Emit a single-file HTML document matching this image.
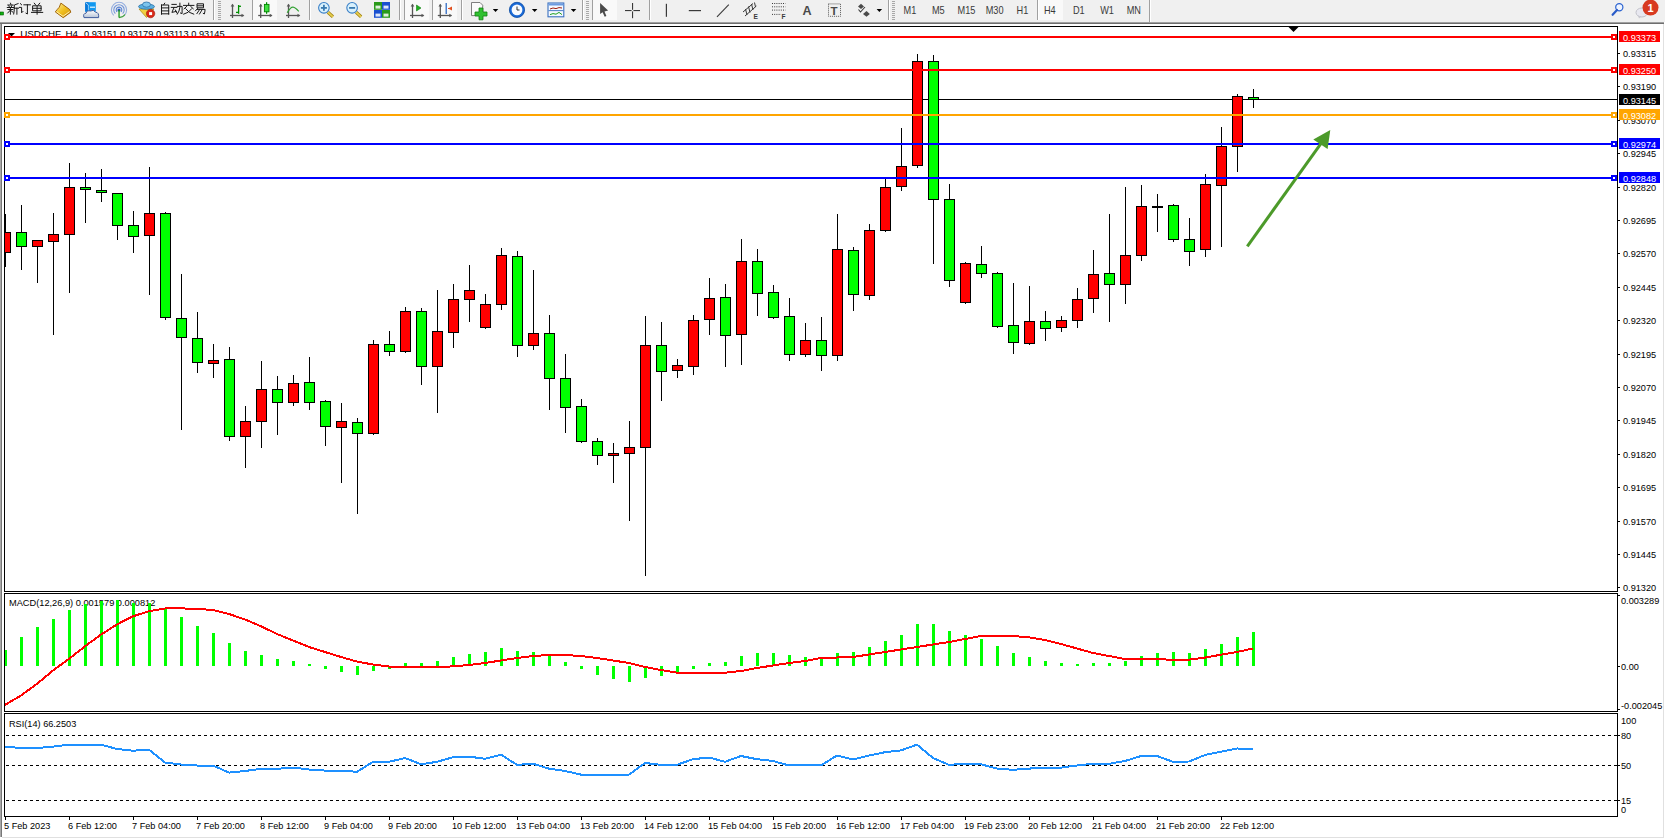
<!DOCTYPE html>
<html><head><meta charset="utf-8"><style>
html,body{margin:0;padding:0;width:1665px;height:839px;overflow:hidden;background:#fff}
</style></head><body>
<svg width="1665" height="839" viewBox="0 0 1665 839" style="position:absolute;left:0;top:0;font-family:'Liberation Sans', sans-serif"><rect x="0" y="0" width="1665" height="839" fill="#ffffff"/><rect x="0" y="0" width="1665" height="22" fill="#f0f0f0"/><g><rect x="0" y="12" width="3.5" height="3" fill="#10b010" stroke="#006000" stroke-width="0.6"/><path transform="translate(7.3,3.2)" d="M3.2,0 L3.6,1.2 M0.5,1.8 H5.8 M1.5,2.6 L2,3.6 M4.5,2.6 L4,3.6 M0,4.3 H6.2 M0.6,6.3 H5.6 M3.1,4.3 V11 M3,7 L0.4,9.8 M3.2,7 L5.6,9 M10.8,0.4 L7,1.8 V6.5 L6.4,10.8 M7,5 H11.2 M9.6,5 V11" fill="none" stroke="#1a1a1a" stroke-width="1" stroke-linecap="square"/><path transform="translate(19.4,3.2)" d="M1,0.4 L2.2,1.6 M0,4.2 H2.2 V9.6 L3.6,8.2 M4.5,1.6 H11 M8,1.6 V10.8 L6.6,10" fill="none" stroke="#1a1a1a" stroke-width="1" stroke-linecap="square"/><path transform="translate(31.5,3.2)" d="M2.8,0 L4,1.6 M8.2,0 L7,1.6 M1.6,2.6 H9.6 V7.6 H1.6 Z M1.6,5.1 H9.6 M5.6,2.6 V11 M0,9.2 H11.2" fill="none" stroke="#1a1a1a" stroke-width="1" stroke-linecap="square"/><defs><linearGradient id="bk" x1="0" y1="0" x2="1" y2="1"><stop offset="0" stop-color="#fff0a0"/><stop offset="0.5" stop-color="#f0c020"/><stop offset="1" stop-color="#d09010"/></linearGradient><linearGradient id="cl" x1="0" y1="0" x2="0" y2="1"><stop offset="0" stop-color="#ffffff"/><stop offset="1" stop-color="#b8c4d8"/></linearGradient></defs><path d="M60.9,3.1 L69.8,9.6 L70.8,12.2 L63.2,17.7 L55.3,11.9 Q57.5,9 59.2,7.3 Z" fill="url(#bk)" stroke="#9a5a00" stroke-width="0.9"/><path d="M56.5,11.6 L63,16.3 L69.6,11.6" fill="none" stroke="#fff0b0" stroke-width="1"/><rect x="85.2" y="2.2" width="10.6" height="9.5" fill="#1098f0"/><rect x="85.2" y="2.2" width="3.2" height="9.5" fill="#0a78d8"/><line x1="85.6" y1="2.6" x2="88.4" y2="5" stroke="#e0f4ff" stroke-width="0.8"/><line x1="88.4" y1="5" x2="88.4" y2="11" stroke="#e0f4ff" stroke-width="0.6"/><rect x="90" y="6.6" width="5" height="1.2" fill="#e8f8ff"/><path d="M84,17.6 Q82.6,13.6 86,13.2 Q87,10 90.6,11 Q93.4,9.2 95.6,12.2 Q99.2,12.4 98.6,17.6 Z" fill="url(#cl)" stroke="#405c9c" stroke-width="1"/><path d="M113.68,15.32 A7.6,7.6 0 1 1 124.32,15.32" fill="none" stroke="#4a78d0" stroke-width="1.1" opacity="0.55"/><path d="M115.36,13.64 A5.2,5.2 0 1 1 122.64,13.64" fill="none" stroke="#4a78d0" stroke-width="1.1" opacity="0.75"/><path d="M117.04,11.959999999999999 A2.8,2.8 0 1 1 120.96,11.959999999999999" fill="none" stroke="#4a78d0" stroke-width="1.1" opacity="0.9"/><path d="M119,17.6 A7.6,7.6 0 0 0 125,14.5" fill="none" stroke="#40a040" stroke-width="1.2"/><circle cx="119" cy="10" r="1.6" fill="#2a5ac0"/><rect x="118.4" y="10" width="1.3" height="7.6" fill="#1a9a1a"/><polygon points="139,9 154,9 146.5,17.5" fill="#f0d040" stroke="#b09020" stroke-width="0.8"/><ellipse cx="146.5" cy="6.6" rx="8" ry="2.6" fill="#5ab0e0" stroke="#2a70a8" stroke-width="0.8"/><ellipse cx="146.5" cy="4.6" rx="4" ry="2.6" fill="#7cc4ec" stroke="#2a70a8" stroke-width="0.8"/><circle cx="150.6" cy="13.6" r="4.2" fill="#d82818" stroke="#a01808" stroke-width="0.6"/><rect x="149.1" y="12.1" width="3" height="3" fill="#fff"/><path transform="translate(159.5,3.2)" d="M5.2,0 L4.2,1.6 M2,1.8 H9.2 V11 M2,1.8 V11 M2,4.7 H9.2 M2,7.7 H9.2 M2,10.6 H9.2" fill="none" stroke="#1a1a1a" stroke-width="1" stroke-linecap="square"/><path transform="translate(171.3,3.2)" d="M0.6,1.2 H5 M0,4.2 H5.6 M2.8,4.2 L0.6,9.2 L5,8.2 M4,6.8 L5.6,9.8 M6,3.2 H10.8 V10.4 L9.2,9.8 M8.6,0 V4 Q8.2,8 6,11" fill="none" stroke="#1a1a1a" stroke-width="1" stroke-linecap="square"/><path transform="translate(183.1,3.2)" d="M5.6,0 V1.6 M0.4,2.2 H10.8 M3.6,3.2 L1,5.6 M7.6,3.2 L10.2,5.6 M2.6,5.6 Q5.6,10 10.6,11 M8.6,5.6 Q5.6,10 0.6,11" fill="none" stroke="#1a1a1a" stroke-width="1" stroke-linecap="square"/><path transform="translate(194.9,3.2)" d="M2.6,0.6 H8.6 V4.6 H2.6 Z M2.6,2.6 H8.6 M2.8,5.2 L0.6,7.6 M2.2,6.2 H10.2 Q10,9 9.4,10.8 L8.4,10.2 M4.8,6.2 L2,10.4 M7.4,6.2 L4.6,10.8" fill="none" stroke="#1a1a1a" stroke-width="1" stroke-linecap="square"/><rect x="213" y="0" width="1" height="20" fill="#a0a0a0"/><rect x="214" y="0" width="1" height="20" fill="#ffffff"/><rect x="218" y="1" width="3" height="1" fill="#a8a8a8"/><rect x="218" y="3" width="3" height="1" fill="#a8a8a8"/><rect x="218" y="5" width="3" height="1" fill="#a8a8a8"/><rect x="218" y="7" width="3" height="1" fill="#a8a8a8"/><rect x="218" y="9" width="3" height="1" fill="#a8a8a8"/><rect x="218" y="11" width="3" height="1" fill="#a8a8a8"/><rect x="218" y="13" width="3" height="1" fill="#a8a8a8"/><rect x="218" y="15" width="3" height="1" fill="#a8a8a8"/><rect x="218" y="17" width="3" height="1" fill="#a8a8a8"/><rect x="218" y="19" width="3" height="1" fill="#a8a8a8"/><g stroke="#555555" stroke-width="1.3" fill="none"><line x1="232.5" y1="4.5" x2="232.5" y2="18"/><line x1="230" y1="15.5" x2="243.5" y2="15.5"/></g><polygon points="230.7,6.5 232.5,3.8 234.3,6.5" fill="#555555"/><polygon points="241.5,13.7 244.3,15.5 241.5,17.3" fill="#555555"/><g stroke="#009000" stroke-width="1.3" fill="none"><line x1="238.6" y1="5" x2="238.6" y2="13.8"/><line x1="238.6" y1="6.3" x2="241" y2="6.3"/><line x1="236" y1="12.4" x2="238.6" y2="12.4"/></g><rect x="252" y="0" width="1" height="20" fill="#a0a0a0"/><rect x="253" y="0" width="1" height="20" fill="#ffffff"/><rect x="253" y="0" width="24" height="20" fill="#f9f9f9"/><g stroke="#555555" stroke-width="1.3" fill="none"><line x1="260.7" y1="4.5" x2="260.7" y2="18"/><line x1="258.2" y1="15.5" x2="271.7" y2="15.5"/></g><polygon points="258.9,6.5 260.7,3.8 262.5,6.5" fill="#555555"/><polygon points="269.7,13.7 272.5,15.5 269.7,17.3" fill="#555555"/><rect x="266" y="2.2" width="1.2" height="11.6" fill="#009000"/><rect x="264.4" y="4.4" width="4.6" height="7.4" fill="#40e040" stroke="#008000" stroke-width="0.9"/><g stroke="#555555" stroke-width="1.3" fill="none"><line x1="288.5" y1="4.5" x2="288.5" y2="18"/><line x1="286" y1="15.5" x2="299.5" y2="15.5"/></g><polygon points="286.7,6.5 288.5,3.8 290.3,6.5" fill="#555555"/><polygon points="297.5,13.7 300.3,15.5 297.5,17.3" fill="#555555"/><path d="M287.2,12.7 Q291,6.5 293.2,7.2 Q295,7.5 298.8,11.3" fill="none" stroke="#30a030" stroke-width="1.2"/><rect x="309" y="0" width="1" height="20" fill="#a0a0a0"/><rect x="310" y="0" width="1" height="20" fill="#ffffff"/><line x1="327.9" y1="12.2" x2="332.9" y2="16.8" stroke="#a08010" stroke-width="3.2"/><line x1="327.9" y1="12.2" x2="332.9" y2="16.8" stroke="#e8d050" stroke-width="1.8"/><circle cx="323.9" cy="7.8" r="5.3" fill="#d8f0fc" stroke="#3a80c8" stroke-width="1.1"/><rect x="320.9" y="7" width="6" height="1.8" fill="#3a7ab0"/><rect x="323.0" y="4.8" width="1.8" height="6" fill="#3a7ab0"/><line x1="356.1" y1="12.2" x2="361.1" y2="16.8" stroke="#a08010" stroke-width="3.2"/><line x1="356.1" y1="12.2" x2="361.1" y2="16.8" stroke="#e8d050" stroke-width="1.8"/><circle cx="352.1" cy="7.8" r="5.3" fill="#d8f0fc" stroke="#3a80c8" stroke-width="1.1"/><rect x="349.1" y="7" width="6" height="1.8" fill="#3a7ab0"/><rect x="374" y="2" width="8" height="7.8" fill="#2a9a1a"/><rect x="375.5" y="5.6" width="5" height="3" fill="#ffffff" opacity="0.85"/><rect x="382" y="2" width="8" height="7.8" fill="#1a50d0"/><rect x="383.5" y="5.6" width="5" height="3" fill="#ffffff" opacity="0.85"/><rect x="374" y="10" width="8" height="7.8" fill="#1a50d0"/><rect x="375.5" y="13.6" width="5" height="3" fill="#ffffff" opacity="0.85"/><rect x="382" y="10" width="8" height="7.8" fill="#2a9a1a"/><rect x="383.5" y="13.6" width="5" height="3" fill="#ffffff" opacity="0.85"/><rect x="399" y="0" width="1" height="20" fill="#a0a0a0"/><rect x="400" y="0" width="1" height="20" fill="#ffffff"/><rect x="404" y="0" width="1" height="20" fill="#a0a0a0"/><rect x="405" y="0" width="1" height="20" fill="#ffffff"/><rect x="405" y="0" width="24" height="20" fill="#f9f9f9"/><g stroke="#555555" stroke-width="1.3" fill="none"><line x1="412.5" y1="4.5" x2="412.5" y2="18"/><line x1="410" y1="15.5" x2="423.5" y2="15.5"/></g><polygon points="410.7,6.5 412.5,3.8 414.3,6.5" fill="#555555"/><polygon points="421.5,13.7 424.3,15.5 421.5,17.3" fill="#555555"/><polygon points="416.5,5 416.5,11 421,8" fill="#20b020" stroke="#108010" stroke-width="0.6"/><rect x="432" y="0" width="1" height="20" fill="#a0a0a0"/><rect x="433" y="0" width="1" height="20" fill="#ffffff"/><rect x="433" y="0" width="24" height="20" fill="#f9f9f9"/><g stroke="#555555" stroke-width="1.3" fill="none"><line x1="440.3" y1="4.5" x2="440.3" y2="18"/><line x1="437.8" y1="15.5" x2="451.3" y2="15.5"/></g><polygon points="438.5,6.5 440.3,3.8 442.1,6.5" fill="#555555"/><polygon points="449.3,13.7 452.1,15.5 449.3,17.3" fill="#555555"/><rect x="445.6" y="3" width="1.2" height="11" fill="#2060c0"/><polygon points="452,6.5 448,8.5 452,10.5" fill="#e05020"/><rect x="448" y="8" width="4" height="1" fill="#e05020"/><rect x="461" y="0" width="1" height="20" fill="#a0a0a0"/><rect x="462" y="0" width="1" height="20" fill="#ffffff"/><path d="M471.5,2.5 H480 L482.7,5.2 V15.6 H471.5 Z" fill="#fafafa" stroke="#707070" stroke-width="0.9"/><path d="M479,8 H483 V12 H487 V16 H483 V19.8 H479 V16 H475 V12 H479 Z" fill="#30c030" stroke="#108010" stroke-width="0.8"/><polygon points="492.8,9 498.3,9 495.55,12" fill="#000"/><circle cx="517" cy="9.9" r="7.6" fill="#1a6ad8" stroke="#0a4aa0" stroke-width="0.8"/><circle cx="517" cy="9.9" r="5.4" fill="#f8fbff"/><path d="M517,6.5 V10 H519.5" fill="none" stroke="#303030" stroke-width="1"/><polygon points="531.9,9 537.4,9 534.65,12" fill="#000"/><rect x="548" y="3" width="15.8" height="13.8" fill="#f4f8ff" stroke="#3a70c0" stroke-width="1.1"/><rect x="548.5" y="3.5" width="14.8" height="2" fill="#6a9ae0"/><rect x="548.5" y="10.2" width="14.8" height="0.9" fill="#3a70c0"/><polyline points="550,9 553,8 556,8.6 559,7.6 562,8" fill="none" stroke="#a02010" stroke-width="1"/><polyline points="550,14.6 553,13.6 556,14.2 559,12.4 562,14.6" fill="none" stroke="#20a020" stroke-width="1"/><polygon points="570.8,9 576.3,9 573.55,12" fill="#000"/><rect x="582" y="0" width="1" height="20" fill="#a0a0a0"/><rect x="583" y="0" width="1" height="20" fill="#ffffff"/><rect x="586" y="1" width="3" height="1" fill="#a8a8a8"/><rect x="586" y="3" width="3" height="1" fill="#a8a8a8"/><rect x="586" y="5" width="3" height="1" fill="#a8a8a8"/><rect x="586" y="7" width="3" height="1" fill="#a8a8a8"/><rect x="586" y="9" width="3" height="1" fill="#a8a8a8"/><rect x="586" y="11" width="3" height="1" fill="#a8a8a8"/><rect x="586" y="13" width="3" height="1" fill="#a8a8a8"/><rect x="586" y="15" width="3" height="1" fill="#a8a8a8"/><rect x="586" y="17" width="3" height="1" fill="#a8a8a8"/><rect x="586" y="19" width="3" height="1" fill="#a8a8a8"/><rect x="592" y="0" width="1" height="20" fill="#a0a0a0"/><rect x="593" y="0" width="1" height="20" fill="#ffffff"/><rect x="593" y="0" width="24" height="20" fill="#f9f9f9"/><polygon points="600.1,2.9 600.1,13.9 602.6,12.2 604.7,16.8 606.4,16 604.5,11.4 608.1,10.5" fill="#4a4a4a"/><g fill="#3a3a3a"><rect x="625" y="10" width="6.6" height="1.1"/><rect x="633.4" y="10" width="6.6" height="1.1"/><rect x="632" y="3" width="1.1" height="6.8"/><rect x="632" y="11.4" width="1.1" height="6.8"/></g><rect x="649" y="0" width="1" height="20" fill="#a0a0a0"/><rect x="650" y="0" width="1" height="20" fill="#ffffff"/><rect x="665.8" y="3.8" width="1.2" height="13" fill="#3a3a3a"/><rect x="688.8" y="10" width="12.2" height="1.2" fill="#3a3a3a"/><line x1="717" y1="16.8" x2="728.8" y2="4.6" stroke="#3a3a3a" stroke-width="1.1"/><g stroke="#3a3a3a" stroke-width="1" fill="none"><line x1="743" y1="12" x2="753" y2="3.5"/><line x1="745" y1="16" x2="756.4" y2="6"/><line x1="745.5" y1="9" x2="747" y2="15"/><line x1="748.5" y1="6.5" x2="750" y2="12.5"/><line x1="751.5" y1="4" x2="753" y2="10"/><line x1="754.5" y1="2.5" x2="755.5" y2="7"/></g><text x="753.4" y="18.6" font-size="6.6" font-weight="bold" fill="#3a3a3a">E</text><g stroke="#3a3a3a" stroke-width="1" stroke-dasharray="1,1.2"><line x1="772" y1="3.5" x2="785.5" y2="3.5"/><line x1="772" y1="6.8" x2="785.5" y2="6.8"/><line x1="772" y1="10.1" x2="785.5" y2="10.1"/><line x1="772" y1="14.4" x2="781" y2="14.4"/></g><text x="781.6" y="18.6" font-size="6.6" font-weight="bold" fill="#3a3a3a">F</text><text x="802.6" y="15" font-size="12.6" font-weight="bold" fill="#4a4a4a">A</text><rect x="828.5" y="3.9" width="12" height="12.4" fill="none" stroke="#5a5a5a" stroke-width="1" stroke-dasharray="1,1"/><text x="830.6" y="14.6" font-size="11.6" font-weight="bold" fill="#4a4a4a">T</text><polygon points="858,6.5 861,3.8 864,6.5 861,9" fill="#4a4a4a"/><polygon points="863,14 866.5,11 869.8,14 866.5,16.8" fill="#4a4a4a"/><polyline points="858.5,9.5 860.5,12 865,7" fill="none" stroke="#3a3a3a" stroke-width="1.1"/><polygon points="876.6,9 882.1,9 879.35,12" fill="#000"/><rect x="888" y="0" width="1" height="20" fill="#a0a0a0"/><rect x="889" y="0" width="1" height="20" fill="#ffffff"/><rect x="892" y="1" width="3" height="1" fill="#a8a8a8"/><rect x="892" y="3" width="3" height="1" fill="#a8a8a8"/><rect x="892" y="5" width="3" height="1" fill="#a8a8a8"/><rect x="892" y="7" width="3" height="1" fill="#a8a8a8"/><rect x="892" y="9" width="3" height="1" fill="#a8a8a8"/><rect x="892" y="11" width="3" height="1" fill="#a8a8a8"/><rect x="892" y="13" width="3" height="1" fill="#a8a8a8"/><rect x="892" y="15" width="3" height="1" fill="#a8a8a8"/><rect x="892" y="17" width="3" height="1" fill="#a8a8a8"/><rect x="892" y="19" width="3" height="1" fill="#a8a8a8"/><rect x="1037" y="0" width="1" height="20" fill="#a0a0a0"/><rect x="1038" y="0" width="1" height="20" fill="#ffffff"/><rect x="1039" y="0" width="24" height="20" fill="#f9f9f9"/><text transform="translate(903.5,14) scale(0.92,1)" font-size="10" fill="#3a3a3a">M1</text><text transform="translate(931.9,14) scale(0.92,1)" font-size="10" fill="#3a3a3a">M5</text><text transform="translate(957.6,14) scale(0.92,1)" font-size="10" fill="#3a3a3a">M15</text><text transform="translate(985.7,14) scale(0.92,1)" font-size="10" fill="#3a3a3a">M30</text><text transform="translate(1016.6,14) scale(0.92,1)" font-size="10" fill="#3a3a3a">H1</text><text transform="translate(1043.9,14) scale(0.92,1)" font-size="10" fill="#3a3a3a">H4</text><text transform="translate(1072.9,14) scale(0.92,1)" font-size="10" fill="#3a3a3a">D1</text><text transform="translate(1100.2,14) scale(0.92,1)" font-size="10" fill="#3a3a3a">W1</text><text transform="translate(1126.7,14) scale(0.92,1)" font-size="10" fill="#3a3a3a">MN</text><rect x="1149" y="0" width="1" height="22" fill="#a0a0a0"/><rect x="1150" y="0" width="1" height="22" fill="#ffffff"/><circle cx="1619.3" cy="7.3" r="3.6" fill="#eef4ff" stroke="#2a62d0" stroke-width="1.2"/><line x1="1617" y1="10" x2="1612.6" y2="14.8" stroke="#2a5cc8" stroke-width="2.2" stroke-linecap="round"/><ellipse cx="1641.8" cy="12.5" rx="5.8" ry="4.5" fill="#e8e8f0" stroke="#b8b8c0" stroke-width="0.8"/><polygon points="1638,15.5 1639,18.6 1641.5,16.5" fill="#c8c8d0"/><circle cx="1650.5" cy="7.6" r="8" fill="#d83a20"/><text x="1647.4" y="12.4" font-size="11" font-weight="bold" fill="#fff">1</text></g><rect x="0" y="22" width="1664" height="1" fill="#a0a0a0"/><rect x="0" y="23" width="1664" height="1" fill="#6e6e6e"/><rect x="0" y="24" width="1" height="813" fill="#a8a8a8"/><rect x="1" y="24" width="1" height="813" fill="#787878"/><rect x="1663" y="24" width="1" height="814" fill="#e0e0e0"/><rect x="2" y="837" width="1662" height="1" fill="#e0e0e0"/><g shape-rendering="crispEdges"><rect x="4" y="26" width="1614" height="1" fill="#000"/><rect x="4" y="26" width="1" height="566" fill="#000"/><rect x="1617" y="26" width="1" height="566" fill="#000"/><rect x="4" y="591" width="1614" height="1" fill="#000"/><rect x="4" y="593" width="1614" height="1" fill="#000"/><rect x="4" y="593" width="1" height="119" fill="#000"/><rect x="1617" y="593" width="1" height="119" fill="#000"/><rect x="4" y="711" width="1614" height="1" fill="#000"/><rect x="4" y="713" width="1614" height="1" fill="#000"/><rect x="4" y="713" width="1" height="104" fill="#000"/><rect x="1617" y="713" width="1" height="104" fill="#000"/><rect x="4" y="816" width="1614" height="1" fill="#000"/></g><text transform="translate(20.2,36.7) scale(1.004,1)" font-size="9.8" fill="#000" stroke="#000" stroke-width="0" text-anchor="start" >USDCHF, H4</text><text transform="translate(84,36.7) scale(0.944,1)" font-size="9.8" fill="#000" stroke="#000" stroke-width="0" text-anchor="start" >0.93151 0.93179 0.93113 0.93145</text><polygon points="8,33 15,33 11.5,36.6" fill="#000"/><polygon points="1288.5,27 1298.5,27 1293.5,32" fill="#000"/><defs><clipPath id="cm"><rect x="5" y="27" width="1612" height="564"/></clipPath><clipPath id="cmacd"><rect x="5" y="594" width="1612" height="117"/></clipPath><clipPath id="crsi"><rect x="5" y="714" width="1612" height="102"/></clipPath></defs><g clip-path="url(#cm)" shape-rendering="crispEdges"><rect x="5" y="99" width="1612" height="1" fill="#000"/><rect x="5" y="214" width="1" height="53" fill="#000"/><rect x="21" y="205" width="1" height="65" fill="#000"/><rect x="37" y="240" width="1" height="43" fill="#000"/><rect x="53" y="213" width="1" height="122" fill="#000"/><rect x="69" y="163" width="1" height="130" fill="#000"/><rect x="85" y="173" width="1" height="50" fill="#000"/><rect x="101" y="169" width="1" height="33" fill="#000"/><rect x="117" y="193" width="1" height="47" fill="#000"/><rect x="133" y="211" width="1" height="42" fill="#000"/><rect x="149" y="167" width="1" height="128" fill="#000"/><rect x="165" y="212" width="1" height="108" fill="#000"/><rect x="181" y="274" width="1" height="156" fill="#000"/><rect x="197" y="312" width="1" height="61" fill="#000"/><rect x="213" y="344" width="1" height="34" fill="#000"/><rect x="229" y="347" width="1" height="94" fill="#000"/><rect x="245" y="406" width="1" height="62" fill="#000"/><rect x="261" y="361" width="1" height="87" fill="#000"/><rect x="277" y="376" width="1" height="59" fill="#000"/><rect x="293" y="375" width="1" height="31" fill="#000"/><rect x="309" y="357" width="1" height="53" fill="#000"/><rect x="325" y="400" width="1" height="46" fill="#000"/><rect x="341" y="403" width="1" height="80" fill="#000"/><rect x="357" y="418" width="1" height="96" fill="#000"/><rect x="373" y="340" width="1" height="95" fill="#000"/><rect x="389" y="331" width="1" height="25" fill="#000"/><rect x="405" y="307" width="1" height="46" fill="#000"/><rect x="421" y="308" width="1" height="77" fill="#000"/><rect x="437" y="290" width="1" height="123" fill="#000"/><rect x="453" y="284" width="1" height="64" fill="#000"/><rect x="469" y="265" width="1" height="57" fill="#000"/><rect x="485" y="294" width="1" height="35" fill="#000"/><rect x="501" y="248" width="1" height="62" fill="#000"/><rect x="517" y="251" width="1" height="106" fill="#000"/><rect x="533" y="270" width="1" height="80" fill="#000"/><rect x="549" y="315" width="1" height="95" fill="#000"/><rect x="565" y="354" width="1" height="79" fill="#000"/><rect x="581" y="399" width="1" height="44" fill="#000"/><rect x="597" y="438" width="1" height="27" fill="#000"/><rect x="613" y="443" width="1" height="40" fill="#000"/><rect x="629" y="421" width="1" height="100" fill="#000"/><rect x="645" y="316" width="1" height="260" fill="#000"/><rect x="661" y="322" width="1" height="79" fill="#000"/><rect x="677" y="359" width="1" height="19" fill="#000"/><rect x="693" y="315" width="1" height="60" fill="#000"/><rect x="709" y="278" width="1" height="57" fill="#000"/><rect x="725" y="284" width="1" height="83" fill="#000"/><rect x="741" y="239" width="1" height="126" fill="#000"/><rect x="757" y="249" width="1" height="67" fill="#000"/><rect x="773" y="285" width="1" height="34" fill="#000"/><rect x="789" y="298" width="1" height="63" fill="#000"/><rect x="805" y="323" width="1" height="34" fill="#000"/><rect x="821" y="317" width="1" height="54" fill="#000"/><rect x="837" y="214" width="1" height="147" fill="#000"/><rect x="853" y="247" width="1" height="64" fill="#000"/><rect x="869" y="224" width="1" height="76" fill="#000"/><rect x="885" y="179" width="1" height="53" fill="#000"/><rect x="901" y="128" width="1" height="63" fill="#000"/><rect x="917" y="54" width="1" height="114" fill="#000"/><rect x="933" y="55" width="1" height="209" fill="#000"/><rect x="949" y="184" width="1" height="103" fill="#000"/><rect x="965" y="262" width="1" height="42" fill="#000"/><rect x="981" y="246" width="1" height="32" fill="#000"/><rect x="997" y="272" width="1" height="56" fill="#000"/><rect x="1013" y="283" width="1" height="71" fill="#000"/><rect x="1029" y="286" width="1" height="59" fill="#000"/><rect x="1045" y="311" width="1" height="30" fill="#000"/><rect x="1061" y="316" width="1" height="16" fill="#000"/><rect x="1077" y="288" width="1" height="40" fill="#000"/><rect x="1093" y="250" width="1" height="63" fill="#000"/><rect x="1109" y="214" width="1" height="108" fill="#000"/><rect x="1125" y="187" width="1" height="117" fill="#000"/><rect x="1141" y="185" width="1" height="76" fill="#000"/><rect x="1157" y="194" width="1" height="38" fill="#000"/><rect x="1173" y="204" width="1" height="38" fill="#000"/><rect x="1189" y="218" width="1" height="48" fill="#000"/><rect x="1205" y="174" width="1" height="83" fill="#000"/><rect x="1221" y="127" width="1" height="120" fill="#000"/><rect x="1237" y="94" width="1" height="78" fill="#000"/><rect x="1253" y="89" width="1" height="19" fill="#000"/><rect x="0" y="232" width="11" height="21" fill="#000"/><rect x="1" y="233" width="9" height="19" fill="#ff0000"/><rect x="16" y="232" width="11" height="15" fill="#000"/><rect x="17" y="233" width="9" height="13" fill="#00ff00"/><rect x="32" y="240" width="11" height="7" fill="#000"/><rect x="33" y="241" width="9" height="5" fill="#ff0000"/><rect x="48" y="234" width="11" height="8" fill="#000"/><rect x="49" y="235" width="9" height="6" fill="#ff0000"/><rect x="64" y="187" width="11" height="48" fill="#000"/><rect x="65" y="188" width="9" height="46" fill="#ff0000"/><rect x="80" y="187" width="11" height="3" fill="#000"/><rect x="81" y="188" width="9" height="1" fill="#00ff00"/><rect x="96" y="190" width="11" height="3" fill="#000"/><rect x="97" y="191" width="9" height="1" fill="#00ff00"/><rect x="112" y="193" width="11" height="33" fill="#000"/><rect x="113" y="194" width="9" height="31" fill="#00ff00"/><rect x="128" y="225" width="11" height="12" fill="#000"/><rect x="129" y="226" width="9" height="10" fill="#00ff00"/><rect x="144" y="213" width="11" height="23" fill="#000"/><rect x="145" y="214" width="9" height="21" fill="#ff0000"/><rect x="160" y="213" width="11" height="105" fill="#000"/><rect x="161" y="214" width="9" height="103" fill="#00ff00"/><rect x="176" y="318" width="11" height="20" fill="#000"/><rect x="177" y="319" width="9" height="18" fill="#00ff00"/><rect x="192" y="338" width="11" height="25" fill="#000"/><rect x="193" y="339" width="9" height="23" fill="#00ff00"/><rect x="208" y="360" width="11" height="4" fill="#000"/><rect x="209" y="361" width="9" height="2" fill="#ff0000"/><rect x="224" y="359" width="11" height="78" fill="#000"/><rect x="225" y="360" width="9" height="76" fill="#00ff00"/><rect x="240" y="421" width="11" height="16" fill="#000"/><rect x="241" y="422" width="9" height="14" fill="#ff0000"/><rect x="256" y="389" width="11" height="33" fill="#000"/><rect x="257" y="390" width="9" height="31" fill="#ff0000"/><rect x="272" y="389" width="11" height="14" fill="#000"/><rect x="273" y="390" width="9" height="12" fill="#00ff00"/><rect x="288" y="383" width="11" height="20" fill="#000"/><rect x="289" y="384" width="9" height="18" fill="#ff0000"/><rect x="304" y="382" width="11" height="21" fill="#000"/><rect x="305" y="383" width="9" height="19" fill="#00ff00"/><rect x="320" y="401" width="11" height="26" fill="#000"/><rect x="321" y="402" width="9" height="24" fill="#00ff00"/><rect x="336" y="421" width="11" height="7" fill="#000"/><rect x="337" y="422" width="9" height="5" fill="#ff0000"/><rect x="352" y="422" width="11" height="12" fill="#000"/><rect x="353" y="423" width="9" height="10" fill="#00ff00"/><rect x="368" y="344" width="11" height="90" fill="#000"/><rect x="369" y="345" width="9" height="88" fill="#ff0000"/><rect x="384" y="344" width="11" height="8" fill="#000"/><rect x="385" y="345" width="9" height="6" fill="#00ff00"/><rect x="400" y="311" width="11" height="41" fill="#000"/><rect x="401" y="312" width="9" height="39" fill="#ff0000"/><rect x="416" y="311" width="11" height="56" fill="#000"/><rect x="417" y="312" width="9" height="54" fill="#00ff00"/><rect x="432" y="331" width="11" height="36" fill="#000"/><rect x="433" y="332" width="9" height="34" fill="#ff0000"/><rect x="448" y="299" width="11" height="34" fill="#000"/><rect x="449" y="300" width="9" height="32" fill="#ff0000"/><rect x="464" y="290" width="11" height="10" fill="#000"/><rect x="465" y="291" width="9" height="8" fill="#ff0000"/><rect x="480" y="304" width="11" height="24" fill="#000"/><rect x="481" y="305" width="9" height="22" fill="#ff0000"/><rect x="496" y="255" width="11" height="50" fill="#000"/><rect x="497" y="256" width="9" height="48" fill="#ff0000"/><rect x="512" y="256" width="11" height="90" fill="#000"/><rect x="513" y="257" width="9" height="88" fill="#00ff00"/><rect x="528" y="333" width="11" height="13" fill="#000"/><rect x="529" y="334" width="9" height="11" fill="#ff0000"/><rect x="544" y="333" width="11" height="46" fill="#000"/><rect x="545" y="334" width="9" height="44" fill="#00ff00"/><rect x="560" y="378" width="11" height="30" fill="#000"/><rect x="561" y="379" width="9" height="28" fill="#00ff00"/><rect x="576" y="406" width="11" height="36" fill="#000"/><rect x="577" y="407" width="9" height="34" fill="#00ff00"/><rect x="592" y="441" width="11" height="15" fill="#000"/><rect x="593" y="442" width="9" height="13" fill="#00ff00"/><rect x="608" y="453" width="11" height="3" fill="#000"/><rect x="609" y="454" width="9" height="1" fill="#ff0000"/><rect x="624" y="447" width="11" height="7" fill="#000"/><rect x="625" y="448" width="9" height="5" fill="#ff0000"/><rect x="640" y="345" width="11" height="103" fill="#000"/><rect x="641" y="346" width="9" height="101" fill="#ff0000"/><rect x="656" y="345" width="11" height="27" fill="#000"/><rect x="657" y="346" width="9" height="25" fill="#00ff00"/><rect x="672" y="365" width="11" height="6" fill="#000"/><rect x="673" y="366" width="9" height="4" fill="#ff0000"/><rect x="688" y="320" width="11" height="47" fill="#000"/><rect x="689" y="321" width="9" height="45" fill="#ff0000"/><rect x="704" y="298" width="11" height="22" fill="#000"/><rect x="705" y="299" width="9" height="20" fill="#ff0000"/><rect x="720" y="297" width="11" height="39" fill="#000"/><rect x="721" y="298" width="9" height="37" fill="#00ff00"/><rect x="736" y="261" width="11" height="74" fill="#000"/><rect x="737" y="262" width="9" height="72" fill="#ff0000"/><rect x="752" y="261" width="11" height="33" fill="#000"/><rect x="753" y="262" width="9" height="31" fill="#00ff00"/><rect x="768" y="292" width="11" height="26" fill="#000"/><rect x="769" y="293" width="9" height="24" fill="#00ff00"/><rect x="784" y="316" width="11" height="39" fill="#000"/><rect x="785" y="317" width="9" height="37" fill="#00ff00"/><rect x="800" y="340" width="11" height="15" fill="#000"/><rect x="801" y="341" width="9" height="13" fill="#ff0000"/><rect x="816" y="340" width="11" height="16" fill="#000"/><rect x="817" y="341" width="9" height="14" fill="#00ff00"/><rect x="832" y="249" width="11" height="107" fill="#000"/><rect x="833" y="250" width="9" height="105" fill="#ff0000"/><rect x="848" y="250" width="11" height="45" fill="#000"/><rect x="849" y="251" width="9" height="43" fill="#00ff00"/><rect x="864" y="230" width="11" height="66" fill="#000"/><rect x="865" y="231" width="9" height="64" fill="#ff0000"/><rect x="880" y="187" width="11" height="44" fill="#000"/><rect x="881" y="188" width="9" height="42" fill="#ff0000"/><rect x="896" y="166" width="11" height="21" fill="#000"/><rect x="897" y="167" width="9" height="19" fill="#ff0000"/><rect x="912" y="61" width="11" height="105" fill="#000"/><rect x="913" y="62" width="9" height="103" fill="#ff0000"/><rect x="928" y="61" width="11" height="139" fill="#000"/><rect x="929" y="62" width="9" height="137" fill="#00ff00"/><rect x="944" y="199" width="11" height="82" fill="#000"/><rect x="945" y="200" width="9" height="80" fill="#00ff00"/><rect x="960" y="263" width="11" height="40" fill="#000"/><rect x="961" y="264" width="9" height="38" fill="#ff0000"/><rect x="976" y="264" width="11" height="10" fill="#000"/><rect x="977" y="265" width="9" height="8" fill="#00ff00"/><rect x="992" y="273" width="11" height="54" fill="#000"/><rect x="993" y="274" width="9" height="52" fill="#00ff00"/><rect x="1008" y="325" width="11" height="18" fill="#000"/><rect x="1009" y="326" width="9" height="16" fill="#00ff00"/><rect x="1024" y="321" width="11" height="23" fill="#000"/><rect x="1025" y="322" width="9" height="21" fill="#ff0000"/><rect x="1040" y="321" width="11" height="8" fill="#000"/><rect x="1041" y="322" width="9" height="6" fill="#00ff00"/><rect x="1056" y="320" width="11" height="8" fill="#000"/><rect x="1057" y="321" width="9" height="6" fill="#ff0000"/><rect x="1072" y="299" width="11" height="22" fill="#000"/><rect x="1073" y="300" width="9" height="20" fill="#ff0000"/><rect x="1088" y="274" width="11" height="25" fill="#000"/><rect x="1089" y="275" width="9" height="23" fill="#ff0000"/><rect x="1104" y="273" width="11" height="12" fill="#000"/><rect x="1105" y="274" width="9" height="10" fill="#00ff00"/><rect x="1120" y="255" width="11" height="30" fill="#000"/><rect x="1121" y="256" width="9" height="28" fill="#ff0000"/><rect x="1136" y="206" width="11" height="50" fill="#000"/><rect x="1137" y="207" width="9" height="48" fill="#ff0000"/><rect x="1152" y="206" width="11" height="2" fill="#000"/><rect x="1168" y="205" width="11" height="35" fill="#000"/><rect x="1169" y="206" width="9" height="33" fill="#00ff00"/><rect x="1184" y="239" width="11" height="13" fill="#000"/><rect x="1185" y="240" width="9" height="11" fill="#00ff00"/><rect x="1200" y="184" width="11" height="66" fill="#000"/><rect x="1201" y="185" width="9" height="64" fill="#ff0000"/><rect x="1216" y="146" width="11" height="40" fill="#000"/><rect x="1217" y="147" width="9" height="38" fill="#ff0000"/><rect x="1232" y="96" width="11" height="51" fill="#000"/><rect x="1233" y="97" width="9" height="49" fill="#ff0000"/><rect x="1248" y="97" width="11" height="3" fill="#000"/><rect x="1249" y="98" width="9" height="1" fill="#00ff00"/><rect x="5" y="36" width="1612" height="2" fill="#ff0000"/><rect x="5" y="69" width="1612" height="2" fill="#ff0000"/><rect x="5" y="114" width="1612" height="2" fill="#ffa500"/><rect x="5" y="143" width="1612" height="2" fill="#0000ff"/><rect x="5" y="177" width="1612" height="2" fill="#0000ff"/></g><g shape-rendering="crispEdges"><rect x="4" y="34" width="6" height="6" fill="#ff0000"/><rect x="6" y="36" width="2" height="2" fill="#ffffff"/><rect x="1611" y="34" width="6" height="6" fill="#ff0000"/><rect x="1613" y="36" width="2" height="2" fill="#ffffff"/></g><g shape-rendering="crispEdges"><rect x="4" y="67" width="6" height="6" fill="#ff0000"/><rect x="6" y="69" width="2" height="2" fill="#ffffff"/><rect x="1611" y="67" width="6" height="6" fill="#ff0000"/><rect x="1613" y="69" width="2" height="2" fill="#ffffff"/></g><g shape-rendering="crispEdges"><rect x="4" y="112" width="6" height="6" fill="#ffa500"/><rect x="6" y="114" width="2" height="2" fill="#ffffff"/><rect x="1611" y="112" width="6" height="6" fill="#ffa500"/><rect x="1613" y="114" width="2" height="2" fill="#ffffff"/></g><g shape-rendering="crispEdges"><rect x="4" y="141" width="6" height="6" fill="#0000ff"/><rect x="6" y="143" width="2" height="2" fill="#ffffff"/><rect x="1611" y="141" width="6" height="6" fill="#0000ff"/><rect x="1613" y="143" width="2" height="2" fill="#ffffff"/></g><g shape-rendering="crispEdges"><rect x="4" y="175" width="6" height="6" fill="#0000ff"/><rect x="6" y="177" width="2" height="2" fill="#ffffff"/><rect x="1611" y="175" width="6" height="6" fill="#0000ff"/><rect x="1613" y="177" width="2" height="2" fill="#ffffff"/></g><line x1="1247.3" y1="246.3" x2="1321.8" y2="142.3" stroke="#4c9a2a" stroke-width="3"/><polygon points="1330.3,130 1313.3,139.5 1327.6,149" fill="#4c9a2a"/><g shape-rendering="crispEdges"><rect x="1618" y="53" width="2" height="1" fill="#000"/><rect x="1618" y="86" width="2" height="1" fill="#000"/><rect x="1618" y="120" width="2" height="1" fill="#000"/><rect x="1618" y="153" width="2" height="1" fill="#000"/><rect x="1618" y="187" width="2" height="1" fill="#000"/><rect x="1618" y="220" width="2" height="1" fill="#000"/><rect x="1618" y="253" width="2" height="1" fill="#000"/><rect x="1618" y="287" width="2" height="1" fill="#000"/><rect x="1618" y="320" width="2" height="1" fill="#000"/><rect x="1618" y="354" width="2" height="1" fill="#000"/><rect x="1618" y="387" width="2" height="1" fill="#000"/><rect x="1618" y="420" width="2" height="1" fill="#000"/><rect x="1618" y="454" width="2" height="1" fill="#000"/><rect x="1618" y="487" width="2" height="1" fill="#000"/><rect x="1618" y="521" width="2" height="1" fill="#000"/><rect x="1618" y="554" width="2" height="1" fill="#000"/><rect x="1618" y="587" width="2" height="1" fill="#000"/></g><text transform="translate(1623,57) scale(0.936,1)" font-size="9.8" fill="#000" stroke="#000" stroke-width="0" text-anchor="start" >0.93315</text><text transform="translate(1623,90) scale(0.936,1)" font-size="9.8" fill="#000" stroke="#000" stroke-width="0" text-anchor="start" >0.93190</text><text transform="translate(1623,124) scale(0.936,1)" font-size="9.8" fill="#000" stroke="#000" stroke-width="0" text-anchor="start" >0.93070</text><text transform="translate(1623,157) scale(0.936,1)" font-size="9.8" fill="#000" stroke="#000" stroke-width="0" text-anchor="start" >0.92945</text><text transform="translate(1623,191) scale(0.936,1)" font-size="9.8" fill="#000" stroke="#000" stroke-width="0" text-anchor="start" >0.92820</text><text transform="translate(1623,224) scale(0.936,1)" font-size="9.8" fill="#000" stroke="#000" stroke-width="0" text-anchor="start" >0.92695</text><text transform="translate(1623,257) scale(0.936,1)" font-size="9.8" fill="#000" stroke="#000" stroke-width="0" text-anchor="start" >0.92570</text><text transform="translate(1623,291) scale(0.936,1)" font-size="9.8" fill="#000" stroke="#000" stroke-width="0" text-anchor="start" >0.92445</text><text transform="translate(1623,324) scale(0.936,1)" font-size="9.8" fill="#000" stroke="#000" stroke-width="0" text-anchor="start" >0.92320</text><text transform="translate(1623,358) scale(0.936,1)" font-size="9.8" fill="#000" stroke="#000" stroke-width="0" text-anchor="start" >0.92195</text><text transform="translate(1623,391) scale(0.936,1)" font-size="9.8" fill="#000" stroke="#000" stroke-width="0" text-anchor="start" >0.92070</text><text transform="translate(1623,424) scale(0.936,1)" font-size="9.8" fill="#000" stroke="#000" stroke-width="0" text-anchor="start" >0.91945</text><text transform="translate(1623,458) scale(0.936,1)" font-size="9.8" fill="#000" stroke="#000" stroke-width="0" text-anchor="start" >0.91820</text><text transform="translate(1623,491) scale(0.936,1)" font-size="9.8" fill="#000" stroke="#000" stroke-width="0" text-anchor="start" >0.91695</text><text transform="translate(1623,525) scale(0.936,1)" font-size="9.8" fill="#000" stroke="#000" stroke-width="0" text-anchor="start" >0.91570</text><text transform="translate(1623,558) scale(0.936,1)" font-size="9.8" fill="#000" stroke="#000" stroke-width="0" text-anchor="start" >0.91445</text><text transform="translate(1623,591) scale(0.936,1)" font-size="9.8" fill="#000" stroke="#000" stroke-width="0" text-anchor="start" >0.91320</text><rect x="1619" y="31" width="41" height="11" fill="#ff0000" shape-rendering="crispEdges"/><text transform="translate(1623,40.5) scale(0.936,1)" font-size="9.8" fill="#fff" stroke="#fff" stroke-width="0" text-anchor="start" >0.93373</text><rect x="1619" y="64" width="41" height="11" fill="#ff0000" shape-rendering="crispEdges"/><text transform="translate(1623,73.5) scale(0.936,1)" font-size="9.8" fill="#fff" stroke="#fff" stroke-width="0" text-anchor="start" >0.93250</text><rect x="1619" y="94" width="41" height="11" fill="#000000" shape-rendering="crispEdges"/><text transform="translate(1623,103.5) scale(0.936,1)" font-size="9.8" fill="#fff" stroke="#fff" stroke-width="0" text-anchor="start" >0.93145</text><rect x="1619" y="109" width="41" height="11" fill="#ffa500" shape-rendering="crispEdges"/><text transform="translate(1623,118.5) scale(0.936,1)" font-size="9.8" fill="#fff" stroke="#fff" stroke-width="0" text-anchor="start" >0.93082</text><rect x="1619" y="138" width="41" height="11" fill="#0000ff" shape-rendering="crispEdges"/><text transform="translate(1623,147.5) scale(0.936,1)" font-size="9.8" fill="#fff" stroke="#fff" stroke-width="0" text-anchor="start" >0.92974</text><rect x="1619" y="172" width="41" height="11" fill="#0000ff" shape-rendering="crispEdges"/><text transform="translate(1623,181.5) scale(0.936,1)" font-size="9.8" fill="#fff" stroke="#fff" stroke-width="0" text-anchor="start" >0.92848</text><text transform="translate(9,606) scale(0.944,1)" font-size="9.8" fill="#000" stroke="#000" stroke-width="0" text-anchor="start" >MACD(12,26,9) 0.001579 0.000812</text><g clip-path="url(#cmacd)" shape-rendering="crispEdges"><rect x="4" y="650" width="3" height="16" fill="#00ff00"/><rect x="20" y="637" width="3" height="29" fill="#00ff00"/><rect x="36" y="627" width="3" height="39" fill="#00ff00"/><rect x="52" y="619" width="3" height="47" fill="#00ff00"/><rect x="68" y="610" width="3" height="56" fill="#00ff00"/><rect x="84" y="604" width="3" height="62" fill="#00ff00"/><rect x="100" y="601" width="3" height="65" fill="#00ff00"/><rect x="116" y="600" width="3" height="66" fill="#00ff00"/><rect x="132" y="603" width="3" height="63" fill="#00ff00"/><rect x="148" y="603" width="3" height="63" fill="#00ff00"/><rect x="164" y="609" width="3" height="57" fill="#00ff00"/><rect x="180" y="617" width="3" height="49" fill="#00ff00"/><rect x="196" y="626" width="3" height="40" fill="#00ff00"/><rect x="212" y="633" width="3" height="33" fill="#00ff00"/><rect x="228" y="643" width="3" height="23" fill="#00ff00"/><rect x="244" y="651" width="3" height="15" fill="#00ff00"/><rect x="260" y="655" width="3" height="11" fill="#00ff00"/><rect x="276" y="659" width="3" height="7" fill="#00ff00"/><rect x="292" y="661" width="3" height="5" fill="#00ff00"/><rect x="308" y="664" width="3" height="2" fill="#00ff00"/><rect x="324" y="666" width="3" height="3" fill="#00ff00"/><rect x="340" y="666" width="3" height="6" fill="#00ff00"/><rect x="356" y="666" width="3" height="9" fill="#00ff00"/><rect x="372" y="666" width="3" height="5" fill="#00ff00"/><rect x="388" y="666" width="3" height="3" fill="#00ff00"/><rect x="404" y="663" width="3" height="3" fill="#00ff00"/><rect x="420" y="663" width="3" height="3" fill="#00ff00"/><rect x="436" y="661" width="3" height="5" fill="#00ff00"/><rect x="452" y="657" width="3" height="9" fill="#00ff00"/><rect x="468" y="654" width="3" height="12" fill="#00ff00"/><rect x="484" y="652" width="3" height="14" fill="#00ff00"/><rect x="500" y="648" width="3" height="18" fill="#00ff00"/><rect x="516" y="651" width="3" height="15" fill="#00ff00"/><rect x="532" y="652" width="3" height="14" fill="#00ff00"/><rect x="548" y="656" width="3" height="10" fill="#00ff00"/><rect x="564" y="662" width="3" height="4" fill="#00ff00"/><rect x="580" y="666" width="3" height="3" fill="#00ff00"/><rect x="596" y="666" width="3" height="9" fill="#00ff00"/><rect x="612" y="666" width="3" height="13" fill="#00ff00"/><rect x="628" y="666" width="3" height="16" fill="#00ff00"/><rect x="644" y="666" width="3" height="12" fill="#00ff00"/><rect x="660" y="666" width="3" height="10" fill="#00ff00"/><rect x="676" y="666" width="3" height="6" fill="#00ff00"/><rect x="692" y="666" width="3" height="3" fill="#00ff00"/><rect x="708" y="663" width="3" height="3" fill="#00ff00"/><rect x="724" y="662" width="3" height="4" fill="#00ff00"/><rect x="740" y="656" width="3" height="10" fill="#00ff00"/><rect x="756" y="653" width="3" height="13" fill="#00ff00"/><rect x="772" y="653" width="3" height="13" fill="#00ff00"/><rect x="788" y="655" width="3" height="11" fill="#00ff00"/><rect x="804" y="657" width="3" height="9" fill="#00ff00"/><rect x="820" y="658" width="3" height="8" fill="#00ff00"/><rect x="836" y="653" width="3" height="13" fill="#00ff00"/><rect x="852" y="652" width="3" height="14" fill="#00ff00"/><rect x="868" y="647" width="3" height="19" fill="#00ff00"/><rect x="884" y="641" width="3" height="25" fill="#00ff00"/><rect x="900" y="635" width="3" height="31" fill="#00ff00"/><rect x="916" y="624" width="3" height="42" fill="#00ff00"/><rect x="932" y="624" width="3" height="42" fill="#00ff00"/><rect x="948" y="631" width="3" height="35" fill="#00ff00"/><rect x="964" y="635" width="3" height="31" fill="#00ff00"/><rect x="980" y="639" width="3" height="27" fill="#00ff00"/><rect x="996" y="646" width="3" height="20" fill="#00ff00"/><rect x="1012" y="653" width="3" height="13" fill="#00ff00"/><rect x="1028" y="657" width="3" height="9" fill="#00ff00"/><rect x="1044" y="661" width="3" height="5" fill="#00ff00"/><rect x="1060" y="663" width="3" height="3" fill="#00ff00"/><rect x="1076" y="664" width="3" height="2" fill="#00ff00"/><rect x="1092" y="663" width="3" height="3" fill="#00ff00"/><rect x="1108" y="663" width="3" height="3" fill="#00ff00"/><rect x="1124" y="661" width="3" height="5" fill="#00ff00"/><rect x="1140" y="656" width="3" height="10" fill="#00ff00"/><rect x="1156" y="653" width="3" height="13" fill="#00ff00"/><rect x="1172" y="652" width="3" height="14" fill="#00ff00"/><rect x="1188" y="653" width="3" height="13" fill="#00ff00"/><rect x="1204" y="649" width="3" height="17" fill="#00ff00"/><rect x="1220" y="644" width="3" height="22" fill="#00ff00"/><rect x="1236" y="637" width="3" height="29" fill="#00ff00"/><rect x="1252" y="632" width="3" height="34" fill="#00ff00"/></g><g clip-path="url(#cmacd)"><polyline points="5,704.9 21,695.5 37,683.8 53,670.5 69,658.8 85,646.3 101,634.6 117,624.4 133,616.3 149,611.2 165,608.5 181,608.4 197,608.8 213,610 229,614 245,619.5 261,626.3 277,634 293,640.5 309,647 325,652 341,657 357,661.6 373,664.5 389,666.5 405,667 421,667 437,667 453,666.4 469,665 485,663 501,660.5 517,658 533,656 549,655 565,655 581,656 597,658 613,660.5 629,663 645,667 661,670 677,672.7 693,672.7 709,672.7 725,672.7 741,671 757,668 773,665.5 789,663 805,661 821,658 837,657.5 853,657 869,654.5 885,652 901,649.5 917,647 933,644.5 949,642 965,639 981,636 997,636 1013,636 1029,637.4 1045,640 1061,644 1077,648.5 1093,653 1109,656 1125,659 1141,659.4 1157,659.4 1173,659.6 1189,659.6 1205,657.6 1221,654.7 1237,652 1253,648.5" fill="none" stroke="#ff0000" stroke-width="2" shape-rendering="crispEdges"/></g><g shape-rendering="crispEdges"><rect x="1618" y="595" width="2" height="1" fill="#000"/><rect x="1618" y="666" width="2" height="1" fill="#000"/><rect x="1618" y="709" width="2" height="1" fill="#000"/></g><text transform="translate(1621,604) scale(0.936,1)" font-size="9.8" fill="#000" stroke="#000" stroke-width="0" text-anchor="start" >0.003289</text><text transform="translate(1621,670) scale(0.936,1)" font-size="9.8" fill="#000" stroke="#000" stroke-width="0" text-anchor="start" >0.00</text><text transform="translate(1621,708.8) scale(0.936,1)" font-size="9.8" fill="#000" stroke="#000" stroke-width="0" text-anchor="start" >-0.002045</text><text transform="translate(9,727) scale(0.936,1)" font-size="9.8" fill="#000" stroke="#000" stroke-width="0" text-anchor="start" >RSI(14) 66.2503</text><g shape-rendering="crispEdges"><line x1="6" y1="735.5" x2="1617" y2="735.5" stroke="#000" stroke-width="1" stroke-dasharray="3,3"/><line x1="6" y1="765.5" x2="1617" y2="765.5" stroke="#000" stroke-width="1" stroke-dasharray="3,3"/><line x1="6" y1="800.5" x2="1617" y2="800.5" stroke="#000" stroke-width="1" stroke-dasharray="3,3"/></g><g clip-path="url(#crsi)"><polyline points="5,746.6 21,748 37,748 53,746.6 69,744.6 85,744.6 101,744.6 117,749 133,750.7 149,749.6 165,762.5 181,764.5 197,765.5 213,765.5 229,772.6 245,771 261,768.8 277,768.8 293,767.6 309,769.5 325,770.6 341,770.6 357,771.8 373,761.8 389,761.8 405,758 421,764.3 437,761.8 453,757.2 469,756.7 485,758.7 501,754.7 517,764.8 533,763.8 549,768.6 565,771 581,774.6 597,774.6 613,774.6 629,774.6 645,763 661,764.8 677,764.8 693,759.2 709,757.5 725,761.8 741,756 757,759.2 773,761 789,765.5 805,764.8 821,765.5 837,755.5 853,759.5 869,755.5 885,752.2 901,750.4 917,744.6 933,758 949,764.8 965,763.8 981,764.3 997,768.6 1013,769.8 1029,768.6 1045,767.6 1061,767.6 1077,765.5 1093,763.8 1109,763.8 1125,761 1141,756 1157,756 1173,761.8 1189,761.5 1205,755 1221,751.7 1237,748.5 1253,748.7" fill="none" stroke="#1e90ff" stroke-width="2" shape-rendering="crispEdges"/></g><g shape-rendering="crispEdges"><rect x="1618" y="735" width="2" height="1" fill="#000"/><rect x="1618" y="765" width="2" height="1" fill="#000"/><rect x="1618" y="800" width="2" height="1" fill="#000"/></g><text transform="translate(1621,724) scale(0.936,1)" font-size="9.8" fill="#000" stroke="#000" stroke-width="0" text-anchor="start" >100</text><text transform="translate(1621,739) scale(0.936,1)" font-size="9.8" fill="#000" stroke="#000" stroke-width="0" text-anchor="start" >80</text><text transform="translate(1621,769) scale(0.936,1)" font-size="9.8" fill="#000" stroke="#000" stroke-width="0" text-anchor="start" >50</text><text transform="translate(1621,804) scale(0.936,1)" font-size="9.8" fill="#000" stroke="#000" stroke-width="0" text-anchor="start" >15</text><text transform="translate(1621,813) scale(0.936,1)" font-size="9.8" fill="#000" stroke="#000" stroke-width="0" text-anchor="start" >0</text><g shape-rendering="crispEdges"><rect x="5" y="817" width="1" height="3" fill="#000"/><rect x="69" y="817" width="1" height="3" fill="#000"/><rect x="133" y="817" width="1" height="3" fill="#000"/><rect x="197" y="817" width="1" height="3" fill="#000"/><rect x="261" y="817" width="1" height="3" fill="#000"/><rect x="325" y="817" width="1" height="3" fill="#000"/><rect x="389" y="817" width="1" height="3" fill="#000"/><rect x="453" y="817" width="1" height="3" fill="#000"/><rect x="517" y="817" width="1" height="3" fill="#000"/><rect x="581" y="817" width="1" height="3" fill="#000"/><rect x="645" y="817" width="1" height="3" fill="#000"/><rect x="709" y="817" width="1" height="3" fill="#000"/><rect x="773" y="817" width="1" height="3" fill="#000"/><rect x="837" y="817" width="1" height="3" fill="#000"/><rect x="901" y="817" width="1" height="3" fill="#000"/><rect x="965" y="817" width="1" height="3" fill="#000"/><rect x="1029" y="817" width="1" height="3" fill="#000"/><rect x="1093" y="817" width="1" height="3" fill="#000"/><rect x="1157" y="817" width="1" height="3" fill="#000"/><rect x="1221" y="817" width="1" height="3" fill="#000"/></g><text transform="translate(4,829) scale(0.936,1)" font-size="9.8" fill="#000" stroke="#000" stroke-width="0" text-anchor="start" >5 Feb 2023</text><text transform="translate(68,829) scale(0.936,1)" font-size="9.8" fill="#000" stroke="#000" stroke-width="0" text-anchor="start" >6 Feb 12:00</text><text transform="translate(132,829) scale(0.936,1)" font-size="9.8" fill="#000" stroke="#000" stroke-width="0" text-anchor="start" >7 Feb 04:00</text><text transform="translate(196,829) scale(0.936,1)" font-size="9.8" fill="#000" stroke="#000" stroke-width="0" text-anchor="start" >7 Feb 20:00</text><text transform="translate(260,829) scale(0.936,1)" font-size="9.8" fill="#000" stroke="#000" stroke-width="0" text-anchor="start" >8 Feb 12:00</text><text transform="translate(324,829) scale(0.936,1)" font-size="9.8" fill="#000" stroke="#000" stroke-width="0" text-anchor="start" >9 Feb 04:00</text><text transform="translate(388,829) scale(0.936,1)" font-size="9.8" fill="#000" stroke="#000" stroke-width="0" text-anchor="start" >9 Feb 20:00</text><text transform="translate(452,829) scale(0.936,1)" font-size="9.8" fill="#000" stroke="#000" stroke-width="0" text-anchor="start" >10 Feb 12:00</text><text transform="translate(516,829) scale(0.936,1)" font-size="9.8" fill="#000" stroke="#000" stroke-width="0" text-anchor="start" >13 Feb 04:00</text><text transform="translate(580,829) scale(0.936,1)" font-size="9.8" fill="#000" stroke="#000" stroke-width="0" text-anchor="start" >13 Feb 20:00</text><text transform="translate(644,829) scale(0.936,1)" font-size="9.8" fill="#000" stroke="#000" stroke-width="0" text-anchor="start" >14 Feb 12:00</text><text transform="translate(708,829) scale(0.936,1)" font-size="9.8" fill="#000" stroke="#000" stroke-width="0" text-anchor="start" >15 Feb 04:00</text><text transform="translate(772,829) scale(0.936,1)" font-size="9.8" fill="#000" stroke="#000" stroke-width="0" text-anchor="start" >15 Feb 20:00</text><text transform="translate(836,829) scale(0.936,1)" font-size="9.8" fill="#000" stroke="#000" stroke-width="0" text-anchor="start" >16 Feb 12:00</text><text transform="translate(900,829) scale(0.936,1)" font-size="9.8" fill="#000" stroke="#000" stroke-width="0" text-anchor="start" >17 Feb 04:00</text><text transform="translate(964,829) scale(0.936,1)" font-size="9.8" fill="#000" stroke="#000" stroke-width="0" text-anchor="start" >19 Feb 23:00</text><text transform="translate(1028,829) scale(0.936,1)" font-size="9.8" fill="#000" stroke="#000" stroke-width="0" text-anchor="start" >20 Feb 12:00</text><text transform="translate(1092,829) scale(0.936,1)" font-size="9.8" fill="#000" stroke="#000" stroke-width="0" text-anchor="start" >21 Feb 04:00</text><text transform="translate(1156,829) scale(0.936,1)" font-size="9.8" fill="#000" stroke="#000" stroke-width="0" text-anchor="start" >21 Feb 20:00</text><text transform="translate(1220,829) scale(0.936,1)" font-size="9.8" fill="#000" stroke="#000" stroke-width="0" text-anchor="start" >22 Feb 12:00</text></svg>
</body></html>
